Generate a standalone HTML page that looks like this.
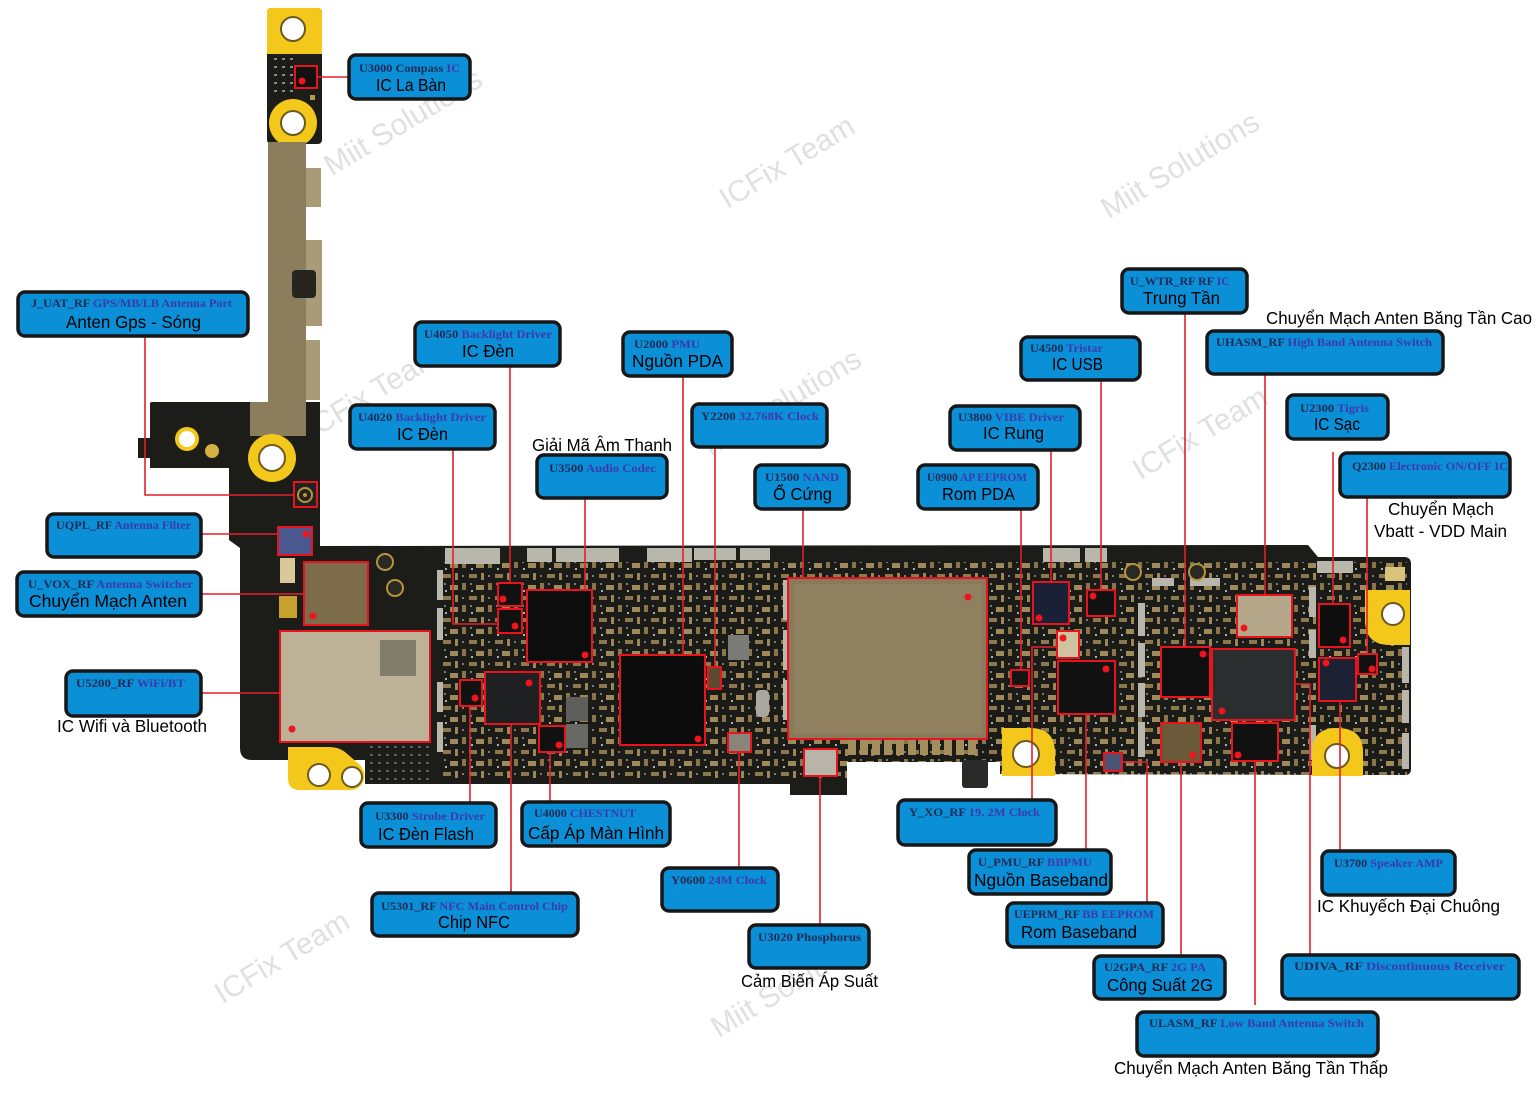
<!DOCTYPE html>
<html><head><meta charset="utf-8">
<style>
html,body{margin:0;padding:0;background:#fff;}
svg{display:block}
.bx{fill:#0b90d8;stroke:#171717;stroke-width:3.5}
.t1{font-family:"Liberation Serif",serif;font-weight:bold;font-size:11.5px;fill:#1f2a55}
.b{fill:#3a3aae}
.t2{font-family:"Liberation Sans","DejaVu Sans",sans-serif;font-size:17.5px;fill:#000}
.ln{fill:none;stroke:#e3202a;stroke-width:1.6}
.rb{fill:none;stroke:#e8131d;stroke-width:2}
.dot{fill:#f0141e}
.wm{font-family:"Liberation Sans",sans-serif;font-size:30px;fill:#e0e0e0}
.sv{fill:#b9b6ac}
.hole{fill:#fff;stroke:#6b5a22;stroke-width:2}
.yl{fill:#f4c81a}
</style></head>
<body>
<svg width="1538" height="1095" viewBox="0 0 1538 1095" xmlns="http://www.w3.org/2000/svg">
<defs>
<pattern id="cp" width="26" height="22" patternUnits="userSpaceOnUse">
<rect width="26" height="22" fill="#1b1c18"/>
<rect x="1" y="2" width="8" height="4" fill="#8e7850"/>
<rect x="13" y="1" width="3" height="7" fill="#9c8558"/>
<rect x="20" y="3" width="2" height="2" fill="#7d7c76"/>
<rect x="2" y="11" width="2" height="2" fill="#7d7c76"/>
<rect x="8" y="13" width="8" height="5" fill="#a08a5c"/>
<rect x="20" y="11" width="4" height="7" fill="#8a744c"/>
<rect x="3" y="18" width="2" height="2" fill="#b0b0aa"/>
</pattern>
<pattern id="dt" width="8" height="8" patternUnits="userSpaceOnUse">
<rect width="8" height="8" fill="#1b1c18"/>
<rect x="2" y="2" width="3" height="2" fill="#8a8984"/>
</pattern>
<clipPath id="bc"><path d="M150,404 Q150,402 152,402 L320,402 L320,546 L1308,545 L1318,557 L1404,557 Q1411,557 1411,564 L1411,769 Q1411,775 1405,775 L1000,774 L1000,762 L847,762 L847,795 L790,795 L790,784 L365,784 L365,760 L252,760 Q240,760 240,748 L240,548 L229,540 L229,468 L150,468 Z"/></clipPath>
</defs>

<!-- watermarks -->
<g class="wm" text-anchor="middle">
<text transform="translate(403,122) rotate(-31)" dy="10">Miit Solutions</text>
<text transform="translate(787,162) rotate(-31)" dy="10">ICFix Team</text>
<text transform="translate(1180,165) rotate(-31)" dy="10">Miit Solutions</text>
<text transform="translate(372,392) rotate(-31)" dy="10">ICFix Team</text>
<text transform="translate(782,402) rotate(-31)" dy="10">Miit Solutions</text>
<text transform="translate(1200,433) rotate(-31)" dy="10">ICFix Team</text>
<text transform="translate(282,957) rotate(-31)" dy="10">ICFix Team</text>
<text transform="translate(790,984) rotate(-31)" dy="10">Miit Solutions</text>
</g>

<!-- top strip -->
<rect x="267" y="8" width="55" height="136" rx="4" fill="#1c1d19"/>
<rect x="271" y="58" width="22" height="40" fill="url(#dt)"/>
<path d="M267,54 L267,12 Q267,8 271,8 L318,8 Q322,8 322,12 L322,54 Z" class="yl"/>
<circle cx="293" cy="29" r="12" class="hole"/>
<circle cx="293" cy="123" r="24" class="yl"/>
<circle cx="293" cy="123" r="12" class="hole"/>
<rect x="296" y="66" width="20" height="21" fill="#111"/>
<rect x="295" y="66" width="22" height="22" class="rb"/>
<circle cx="302" cy="81" r="3.5" class="dot"/>
<rect x="310" y="95" width="5" height="5" fill="#b59a52"/>

<!-- metal strip -->
<rect x="268" y="142" width="38" height="263" fill="#8c7d5c"/>
<rect x="306" y="168" width="15" height="39" fill="#a99a78"/>
<rect x="306" y="240" width="16" height="86" fill="#a99a78"/>
<rect x="306" y="340" width="14" height="60" fill="#a99a78"/>
<rect x="292" y="270" width="24" height="28" rx="4" fill="#26251f"/>

<!-- main board -->
<path fill="#1c1d19" d="M150,404 Q150,402 152,402 L320,402 L320,546 L1308,545 L1318,557 L1404,557 Q1411,557 1411,564 L1411,769 Q1411,775 1405,775 L1000,774 L1000,762 L847,762 L847,795 L790,795 L790,784 L365,784 L365,760 L252,760 Q240,760 240,748 L240,548 L229,540 L229,468 L150,468 Z"/>
<rect x="138" y="438" width="14" height="20" fill="#1c1d19"/>
<rect x="250" y="402" width="56" height="34" fill="#8c7d5c"/>
<rect x="268" y="395" width="38" height="12" fill="#8c7d5c"/>
<circle cx="187" cy="439" r="12" class="yl"/>
<circle cx="187" cy="439" r="8" fill="#fff"/>
<circle cx="212" cy="451" r="7" fill="#d4b040"/>
<circle cx="272" cy="458" r="24" class="yl"/>
<circle cx="272" cy="458" r="13" class="hole"/>

<g clip-path="url(#bc)">
<rect x="440" y="562" width="967" height="216" fill="url(#cp)"/>
<rect x="370" y="640" width="60" height="140" fill="url(#dt)" opacity="0.6"/>
</g>

<!-- silver connectors -->
<rect class="sv" x="445" y="548" width="55" height="16"/>
<rect class="sv" x="527" y="548" width="25" height="14"/>
<rect class="sv" x="556" y="548" width="63" height="14"/>
<rect class="sv" x="647" y="548" width="45" height="14"/>
<rect class="sv" x="694" y="548" width="42" height="12"/>
<rect class="sv" x="740" y="548" width="30" height="12"/>
<rect class="sv" x="1043" y="548" width="37" height="14"/>
<rect class="sv" x="1085" y="548" width="22" height="14"/>
<rect class="sv" x="1317" y="561" width="36" height="12"/>
<rect class="sv" x="1152" y="578" width="22" height="8"/>
<rect class="sv" x="1190" y="578" width="30" height="8"/>
<rect class="sv" x="437" y="570" width="6" height="30"/>
<rect class="sv" x="437" y="608" width="6" height="32"/>
<rect class="sv" x="437" y="682" width="6" height="30"/>
<rect class="sv" x="437" y="722" width="6" height="30"/>
<rect class="sv" x="783" y="580" width="6" height="40"/>
<rect class="sv" x="783" y="630" width="6" height="40"/>
<rect class="sv" x="783" y="680" width="6" height="40"/>
<rect class="sv" x="1138" y="603" width="7" height="33"/>
<rect class="sv" x="1138" y="643" width="7" height="34"/>
<rect class="sv" x="1138" y="683" width="7" height="34"/>
<rect class="sv" x="1138" y="722" width="7" height="35"/>
<rect class="sv" x="1309" y="587" width="7" height="30"/>
<rect class="sv" x="1309" y="630" width="7" height="28"/>
<rect class="sv" x="1309" y="725" width="7" height="35"/>
<rect class="sv" x="1402" y="647" width="7" height="36"/>
<rect class="sv" x="1402" y="690" width="7" height="33"/>
<rect class="sv" x="1402" y="733" width="7" height="36"/>
<rect x="756" y="690" width="13" height="27" rx="4" fill="#a8a8a0"/>
<rect x="728" y="635" width="21" height="25" fill="#7a7a76"/>
<rect x="566" y="697" width="22" height="24" fill="#5e5e5a"/>
<rect x="566" y="724" width="22" height="24" fill="#686864"/>
<g fill="#a58e5e">
<rect x="848" y="740" width="8" height="15"/><rect x="860" y="740" width="8" height="15"/><rect x="872" y="740" width="8" height="15"/><rect x="884" y="740" width="8" height="15"/><rect x="896" y="740" width="8" height="15"/><rect x="908" y="740" width="8" height="15"/><rect x="920" y="740" width="8" height="15"/><rect x="932" y="740" width="8" height="15"/><rect x="944" y="740" width="8" height="15"/><rect x="956" y="740" width="8" height="15"/><rect x="968" y="740" width="8" height="15"/>
</g>
<rect x="962" y="760" width="26" height="28" rx="3" fill="#2a2a28"/>
<rect x="1385" y="567" width="20" height="14" fill="#d9c27a"/>

<!-- left small parts -->
<rect x="294" y="482" width="23" height="25" fill="#222"/>
<circle cx="305" cy="495" r="7" fill="none" stroke="#b8953a" stroke-width="2"/>
<circle cx="305" cy="495" r="2" fill="#b8953a"/>
<rect x="294" y="482" width="23" height="25" class="rb"/>
<rect x="279" y="528" width="33" height="27" fill="#4b5890"/>
<rect x="278" y="527" width="34" height="28" class="rb"/>
<circle cx="306" cy="534" r="3.5" class="dot"/>
<rect x="280" y="558" width="15" height="25" fill="#d8c89a"/>
<rect x="279" y="596" width="18" height="22" fill="#c8a030"/>
<rect x="304" y="562" width="64" height="63" fill="#7d6c4a"/>
<rect x="304" y="562" width="64" height="63" class="rb"/>
<circle cx="313" cy="616" r="3.5" class="dot"/>
<circle cx="385" cy="562" r="8" fill="#2a2a24" stroke="#b8953a" stroke-width="2"/>
<circle cx="395" cy="588" r="8" fill="#2a2a24" stroke="#b8953a" stroke-width="2"/>
<rect x="280" y="631" width="150" height="111" fill="#bdb198"/>
<rect x="380" y="640" width="36" height="36" fill="#6a655a" opacity="0.7"/>
<rect x="280" y="631" width="150" height="111" class="rb"/>
<circle cx="292" cy="729" r="3.5" class="dot"/>
<path d="M288,747 L330,747 Q338,747 345,752 L360,765 Q366,772 364,780 Q360,790 350,790 L300,790 Q288,790 288,778 Z" class="yl"/>
<circle cx="319" cy="775" r="11" class="hole"/>
<circle cx="352" cy="777" r="10" class="hole"/>

<!-- chips left-middle -->
<rect x="498" y="583" width="24" height="23" fill="#111"/><rect x="498" y="583" width="24" height="23" class="rb"/><circle cx="503" cy="599" r="3.5" class="dot"/>
<rect x="498" y="609" width="24" height="24" fill="#111"/><rect x="498" y="609" width="24" height="24" class="rb"/><circle cx="515" cy="626" r="3.5" class="dot"/>
<rect x="527" y="590" width="65" height="72" fill="#0d0d0d"/><rect x="527" y="590" width="65" height="72" class="rb"/><circle cx="585" cy="655" r="3.5" class="dot"/>
<rect x="460" y="680" width="22" height="26" fill="#121212"/><rect x="460" y="680" width="22" height="26" class="rb"/><circle cx="475" cy="698" r="3.5" class="dot"/>
<rect x="485" y="672" width="55" height="52" fill="#1e2022"/><rect x="485" y="672" width="55" height="52" class="rb"/><circle cx="529" cy="683" r="3.5" class="dot"/>
<rect x="539" y="726" width="26" height="26" fill="#111"/><rect x="539" y="726" width="26" height="26" class="rb"/><circle cx="559" cy="745" r="3.5" class="dot"/>
<rect x="620" y="655" width="85" height="90" fill="#0c0c0c"/><rect x="620" y="655" width="85" height="90" class="rb"/><circle cx="698" cy="739" r="3.5" class="dot"/>
<rect x="708" y="667" width="13" height="22" fill="#5a4a30"/><rect x="708" y="667" width="13" height="22" class="rb"/>
<rect x="728" y="733" width="23" height="19" fill="#8a857a"/><rect x="728" y="733" width="23" height="19" class="rb"/>
<rect x="788" y="578" width="199" height="161" fill="#8a7a5b"/>
<rect x="794" y="584" width="188" height="150" fill="#8f805f"/>
<rect x="788" y="578" width="199" height="161" class="rb"/><circle cx="968" cy="597" r="3.5" class="dot"/>
<rect x="804" y="749" width="33" height="27" fill="#b8b4aa"/><rect x="804" y="749" width="33" height="27" class="rb"/>

<!-- right-side pads -->
<path d="M1002,728 L1030,728 Q1055,728 1055,753 L1055,776 L1002,776 Z" class="yl"/>
<circle cx="1026" cy="754" r="13" class="hole"/>
<path d="M1312,776 L1312,752 Q1312,728 1337,728 Q1363,728 1363,752 L1363,776 Z" class="yl"/>
<circle cx="1337" cy="756" r="12" class="hole"/>
<path d="M1365,590 L1410,590 L1410,645 L1390,645 Q1365,645 1365,620 Z" class="yl"/>
<circle cx="1393" cy="614" r="11" class="hole"/>
<circle cx="1133" cy="572" r="8" fill="#2a2a24" stroke="#b8953a" stroke-width="2"/>
<circle cx="1197" cy="572" r="8" fill="#2a2a24" stroke="#b8953a" stroke-width="2"/>

<!-- chips right -->
<rect x="1011" y="670" width="18" height="16" fill="#151515"/><rect x="1011" y="670" width="18" height="16" class="rb"/>
<rect x="1033" y="582" width="36" height="42" fill="#1a2035"/><rect x="1033" y="582" width="36" height="42" class="rb"/><circle cx="1039" cy="618" r="3.5" class="dot"/>
<rect x="1087" y="590" width="28" height="26" fill="#111"/><rect x="1087" y="590" width="28" height="26" class="rb"/><circle cx="1093" cy="596" r="3.5" class="dot"/>
<rect x="1057" y="631" width="22" height="27" fill="#cfc3a2"/><rect x="1057" y="631" width="22" height="27" class="rb"/><circle cx="1063" cy="638" r="3.5" class="dot"/>
<rect x="1058" y="661" width="57" height="53" fill="#121212"/><rect x="1058" y="661" width="57" height="53" class="rb"/><circle cx="1106" cy="669" r="3.5" class="dot"/>
<rect x="1104" y="753" width="18" height="18" fill="#4a5575"/><rect x="1104" y="753" width="18" height="18" class="rb"/>
<rect x="1161" y="647" width="49" height="50" fill="#0f0f0f"/><rect x="1161" y="647" width="49" height="50" class="rb"/><circle cx="1203" cy="654" r="3.5" class="dot"/>
<rect x="1212" y="649" width="83" height="71" fill="#2a2e2e"/><rect x="1212" y="649" width="83" height="71" class="rb"/><circle cx="1222" cy="711" r="3.5" class="dot"/>
<rect x="1237" y="595" width="55" height="42" fill="#b5a88a"/><rect x="1237" y="595" width="55" height="42" class="rb"/><circle cx="1244" cy="628" r="3.5" class="dot"/>
<rect x="1161" y="723" width="40" height="39" fill="#6a5a3a"/><rect x="1161" y="723" width="40" height="39" class="rb"/><circle cx="1193" cy="755" r="3.5" class="dot"/>
<rect x="1232" y="723" width="46" height="38" fill="#111"/><rect x="1232" y="723" width="46" height="38" class="rb"/><circle cx="1238" cy="755" r="3.5" class="dot"/>
<rect x="1319" y="604" width="31" height="43" fill="#0e0e0e"/><rect x="1319" y="604" width="31" height="43" class="rb"/><circle cx="1343" cy="640" r="3.5" class="dot"/>
<rect x="1319" y="658" width="37" height="43" fill="#1c2233"/><rect x="1319" y="658" width="37" height="43" class="rb"/><circle cx="1326" cy="663" r="3.5" class="dot"/>
<rect x="1358" y="654" width="19" height="20" fill="#111"/><rect x="1358" y="654" width="19" height="20" class="rb"/><circle cx="1372" cy="669" r="3.5" class="dot"/>

<!-- connector lines -->
<polyline class="ln" points="349,77 317,77"/>
<polyline class="ln" points="145,336 145,495 294,495"/>
<polyline class="ln" points="201,534 278,534"/>
<polyline class="ln" points="201,594 304,594"/>
<polyline class="ln" points="201,693 280,693"/>
<polyline class="ln" points="510,366 510,583"/>
<polyline class="ln" points="453,449 453,624 498,624"/>
<polyline class="ln" points="585,498 585,590"/>
<polyline class="ln" points="683,376 683,655"/>
<polyline class="ln" points="715,447 715,667"/>
<polyline class="ln" points="803,509 803,578"/>
<polyline class="ln" points="1021,509 1021,670"/>
<polyline class="ln" points="1051,450 1051,582"/>
<polyline class="ln" points="1101,380 1101,590"/>
<polyline class="ln" points="1185,313 1185,647"/>
<polyline class="ln" points="1265,374 1265,595"/>
<polyline class="ln" points="1333,452 1333,604"/>
<polyline class="ln" points="1367,497 1367,654"/>
<polyline class="ln" points="470,706 470,803"/>
<polyline class="ln" points="511,724 511,893"/>
<polyline class="ln" points="550,752 550,802"/>
<polyline class="ln" points="739,752 739,868"/>
<polyline class="ln" points="820,776 820,925"/>
<polyline class="ln" points="1057,647 1032,647 1032,800"/>
<polyline class="ln" points="1086,714 1086,850"/>
<polyline class="ln" points="1122,762 1147,762 1147,903"/>
<polyline class="ln" points="1181,762 1181,956"/>
<polyline class="ln" points="1255,761 1255,1005"/>
<polyline class="ln" points="1295,684 1310,684 1310,955"/>
<polyline class="ln" points="1340,701 1340,851"/>

<!-- label boxes -->
<rect class="bx" x="349" y="55" width="121" height="44" rx="7"/>
<text class="t1" x="359" y="72" textLength="101" lengthAdjust="spacingAndGlyphs">U3000 Compass <tspan class="b">IC</tspan></text>
<text class="t2" x="376" y="91" textLength="70" lengthAdjust="spacingAndGlyphs">IC La Bàn</text>

<rect class="bx" x="18" y="292" width="230" height="44" rx="7"/>
<text class="t1" x="31" y="307" textLength="201" lengthAdjust="spacingAndGlyphs">J_UAT_RF <tspan class="b">GPS/MB/LB Antenna Port</tspan></text>
<text class="t2" x="66" y="328" textLength="135" lengthAdjust="spacingAndGlyphs">Anten Gps - Sóng</text>

<rect class="bx" x="415" y="322" width="145" height="44" rx="7"/>
<text class="t1" x="424" y="338" textLength="128" lengthAdjust="spacingAndGlyphs">U4050  <tspan class="b">Backlight Driver</tspan></text>
<text class="t2" x="462" y="357" textLength="52" lengthAdjust="spacingAndGlyphs">IC Đèn</text>

<rect class="bx" x="350" y="405" width="145" height="44" rx="7"/>
<text class="t1" x="358" y="421" textLength="128" lengthAdjust="spacingAndGlyphs">U4020 <tspan class="b">Backlight Driver</tspan></text>
<text class="t2" x="397" y="440" textLength="51" lengthAdjust="spacingAndGlyphs">IC Đèn</text>

<rect class="bx" x="623" y="332" width="109" height="44" rx="7"/>
<text class="t1" x="634" y="348" textLength="66" lengthAdjust="spacingAndGlyphs">U2000 <tspan class="b">PMU</tspan></text>
<text class="t2" x="632" y="367" textLength="91" lengthAdjust="spacingAndGlyphs">Nguồn PDA</text>

<rect class="bx" x="692" y="404" width="135" height="43" rx="7"/>
<text class="t1" x="701" y="420" textLength="118" lengthAdjust="spacingAndGlyphs">Y2200 <tspan class="b">32.768K Clock</tspan></text>

<text class="t2" x="532" y="451" textLength="140" lengthAdjust="spacingAndGlyphs">Giải Mã Âm Thanh</text>
<rect class="bx" x="537" y="455" width="130" height="43" rx="7"/>
<text class="t1" x="549" y="472" textLength="107" lengthAdjust="spacingAndGlyphs">U3500  <tspan class="b">Audio Codec</tspan></text>

<rect class="bx" x="755" y="465" width="94" height="44" rx="7"/>
<text class="t1" x="765" y="481" textLength="74" lengthAdjust="spacingAndGlyphs">U1500 <tspan class="b">NAND</tspan></text>
<text class="t2" x="773" y="500" textLength="59" lengthAdjust="spacingAndGlyphs">Ổ Cứng</text>

<rect class="bx" x="918" y="465" width="120" height="44" rx="7"/>
<text class="t1" x="927" y="481" textLength="100" lengthAdjust="spacingAndGlyphs">U0900 <tspan class="b">AP EEPROM</tspan></text>
<text class="t2" x="942" y="500" textLength="73" lengthAdjust="spacingAndGlyphs">Rom PDA</text>

<rect class="bx" x="950" y="406" width="130" height="44" rx="7"/>
<text class="t1" x="958" y="421" textLength="106" lengthAdjust="spacingAndGlyphs">U3800 <tspan class="b">VIBE Driver</tspan></text>
<text class="t2" x="983" y="439" textLength="61" lengthAdjust="spacingAndGlyphs">IC Rung</text>

<rect class="bx" x="1021" y="337" width="119" height="43" rx="7"/>
<text class="t1" x="1030" y="352" textLength="73" lengthAdjust="spacingAndGlyphs">U4500 <tspan class="b">Tristar</tspan></text>
<text class="t2" x="1052" y="370" textLength="51" lengthAdjust="spacingAndGlyphs">IC USB</text>

<rect class="bx" x="1122" y="269" width="125" height="44" rx="7"/>
<text class="t1" x="1130" y="285" textLength="100" lengthAdjust="spacingAndGlyphs">U_WTR_RF RF <tspan class="b">IC</tspan></text>
<text class="t2" x="1143" y="304" textLength="77" lengthAdjust="spacingAndGlyphs">Trung Tần</text>

<text class="t2" x="1266" y="324" textLength="266" lengthAdjust="spacingAndGlyphs">Chuyển Mạch Anten Băng Tần Cao</text>
<rect class="bx" x="1207" y="331" width="236" height="43" rx="7"/>
<text class="t1" x="1216" y="346" textLength="216" lengthAdjust="spacingAndGlyphs">UHASM_RF <tspan class="b">High Band  Antenna Switch</tspan></text>

<rect class="bx" x="1287" y="395" width="101" height="44" rx="7"/>
<text class="t1" x="1300" y="412" textLength="69" lengthAdjust="spacingAndGlyphs">U2300 <tspan class="b">Tigris</tspan></text>
<text class="t2" x="1314" y="430" textLength="46" lengthAdjust="spacingAndGlyphs">IC Sạc</text>

<rect class="bx" x="1340" y="453" width="170" height="44" rx="7"/>
<text class="t1" x="1352" y="470" textLength="156" lengthAdjust="spacingAndGlyphs">Q2300 <tspan class="b">Electronic ON/OFF IC</tspan></text>
<text class="t2" x="1388" y="515" textLength="106" lengthAdjust="spacingAndGlyphs">Chuyển Mạch</text>
<text class="t2" x="1374" y="537" textLength="133" lengthAdjust="spacingAndGlyphs">Vbatt - VDD Main</text>

<rect class="bx" x="47" y="514" width="154" height="43" rx="7"/>
<text class="t1" x="56" y="529" textLength="135" lengthAdjust="spacingAndGlyphs">UQPL_RF <tspan class="b">Antenna Filter</tspan></text>

<rect class="bx" x="17" y="572" width="184" height="44" rx="7"/>
<text class="t1" x="28" y="588" textLength="165" lengthAdjust="spacingAndGlyphs">U_VOX_RF  <tspan class="b">Antenna Switcher</tspan></text>
<text class="t2" x="29" y="607" textLength="158" lengthAdjust="spacingAndGlyphs">Chuyển Mạch Anten</text>

<rect class="bx" x="66" y="671" width="135" height="45" rx="7"/>
<text class="t1" x="76" y="687" textLength="109" lengthAdjust="spacingAndGlyphs">U5200_RF  <tspan class="b">WiFi/BT</tspan></text>
<text class="t2" x="57" y="732" textLength="150" lengthAdjust="spacingAndGlyphs">IC Wifi và Bluetooth</text>

<rect class="bx" x="361" y="803" width="135" height="44" rx="7"/>
<text class="t1" x="375" y="820" textLength="110" lengthAdjust="spacingAndGlyphs">U3300 <tspan class="b">Strobe Driver</tspan></text>
<text class="t2" x="378" y="840" textLength="96" lengthAdjust="spacingAndGlyphs">IC Đèn Flash</text>

<rect class="bx" x="522" y="802" width="148" height="44" rx="7"/>
<text class="t1" x="534" y="817" textLength="102" lengthAdjust="spacingAndGlyphs">U4000 <tspan class="b">CHESTNUT</tspan></text>
<text class="t2" x="528" y="839" textLength="136" lengthAdjust="spacingAndGlyphs">Cấp Áp Màn Hình</text>

<rect class="bx" x="372" y="893" width="206" height="43" rx="7"/>
<text class="t1" x="381" y="910" textLength="187" lengthAdjust="spacingAndGlyphs">U5301_RF <tspan class="b">NFC Main Control Chip</tspan></text>
<text class="t2" x="438" y="928" textLength="72" lengthAdjust="spacingAndGlyphs">Chip NFC</text>

<rect class="bx" x="662" y="868" width="116" height="43" rx="7"/>
<text class="t1" x="671" y="884" textLength="96" lengthAdjust="spacingAndGlyphs">Y0600 <tspan class="b">24M Clock</tspan></text>

<rect class="bx" x="749" y="925" width="120" height="43" rx="7"/>
<text class="t1" x="758" y="941" textLength="103" lengthAdjust="spacingAndGlyphs">U3020  Phosphorus</text>
<text class="t2" x="741" y="987" textLength="137" lengthAdjust="spacingAndGlyphs">Cảm Biến Áp Suất</text>

<rect class="bx" x="898" y="800" width="158" height="45" rx="7"/>
<text class="t1" x="909" y="816" textLength="131" lengthAdjust="spacingAndGlyphs">Y_XO_RF <tspan class="b">19. 2M Clock</tspan></text>

<rect class="bx" x="969" y="850" width="142" height="44" rx="7"/>
<text class="t1" x="978" y="866" textLength="114" lengthAdjust="spacingAndGlyphs">U_PMU_RF <tspan class="b">BBPMU</tspan></text>
<text class="t2" x="974" y="886" textLength="134" lengthAdjust="spacingAndGlyphs">Nguồn Baseband</text>

<rect class="bx" x="1007" y="903" width="156" height="44" rx="7"/>
<text class="t1" x="1014" y="918" textLength="140" lengthAdjust="spacingAndGlyphs">UEPRM_RF <tspan class="b">BB EEPROM</tspan></text>
<text class="t2" x="1021" y="938" textLength="116" lengthAdjust="spacingAndGlyphs">Rom Baseband</text>

<rect class="bx" x="1094" y="956" width="131" height="43" rx="7"/>
<text class="t1" x="1104" y="971" textLength="102" lengthAdjust="spacingAndGlyphs">U2GPA_RF  <tspan class="b">2G PA</tspan></text>
<text class="t2" x="1107" y="991" textLength="106" lengthAdjust="spacingAndGlyphs">Công Suất 2G</text>

<rect class="bx" x="1137" y="1012" width="241" height="44" rx="7"/>
<text class="t1" x="1149" y="1027" textLength="215" lengthAdjust="spacingAndGlyphs">ULASM_RF  <tspan class="b">Low Band  Antenna Switch</tspan></text>
<text class="t2" x="1114" y="1074" textLength="274" lengthAdjust="spacingAndGlyphs">Chuyển Mạch Anten Băng Tần Thấp</text>

<rect class="bx" x="1322" y="851" width="133" height="44" rx="7"/>
<text class="t1" x="1334" y="867" textLength="109" lengthAdjust="spacingAndGlyphs">U3700 <tspan class="b">Speaker AMP</tspan></text>
<text class="t2" x="1317" y="912" textLength="183" lengthAdjust="spacingAndGlyphs">IC Khuyếch Đại Chuông</text>

<rect class="bx" x="1282" y="955" width="237" height="44" rx="7"/>
<text class="t1" x="1294" y="970" textLength="211" lengthAdjust="spacingAndGlyphs">UDIVA_RF   <tspan class="b">Discontinuous Receiver</tspan></text>
</svg>
</body></html>
